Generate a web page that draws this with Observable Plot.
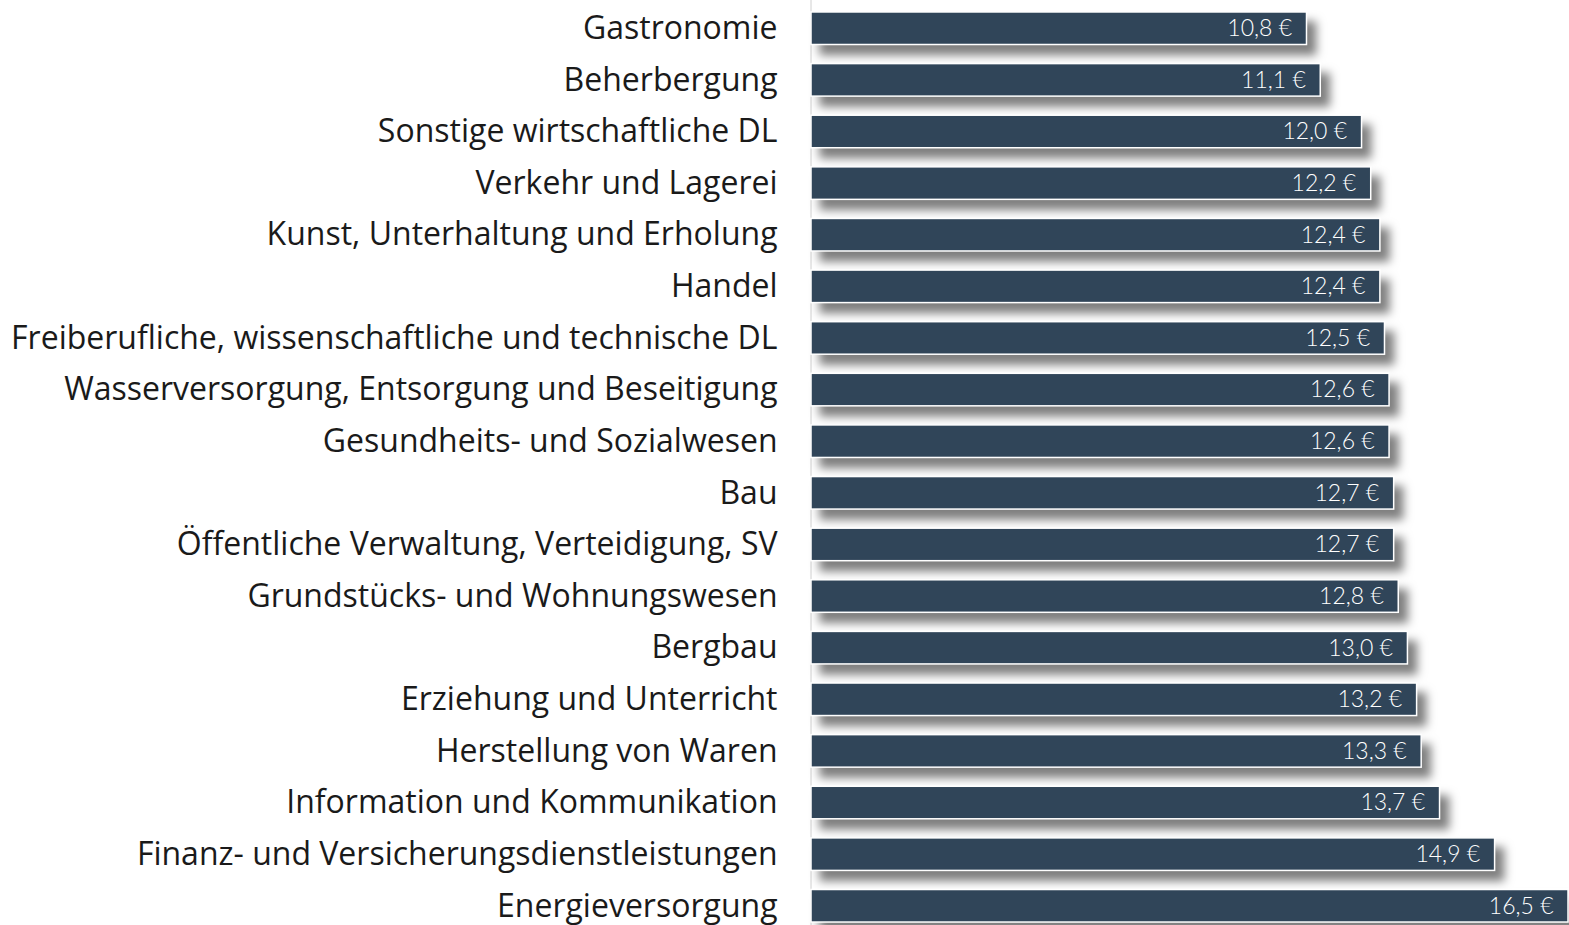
<!DOCTYPE html>
<html>
<head>
<meta charset="utf-8">
<script src="https://cdn.jsdelivr.net/npm/d3@7"></script>
<script src="https://cdn.jsdelivr.net/npm/@observablehq/plot@0.6"></script>
<style>
  html, body { margin: 0; padding: 0; background: #fff; }
  #chart svg { display: block; }
</style>
</head>
<body>
<div id="chart"></div>
<script>
const categories = [
  "Gastronomie",
  "Beherbergung",
  "Sonstige wirtschaftliche DL",
  "Verkehr und Lagerei",
  "Kunst, Unterhaltung und Erholung",
  "Handel",
  "Freiberufliche, wissenschaftliche und technische DL",
  "Wasserversorgung, Entsorgung und Beseitigung",
  "Gesundheits- und Sozialwesen",
  "Bau",
  "Öffentliche Verwaltung, Verteidigung, SV",
  "Grundstücks- und Wohnungswesen",
  "Bergbau",
  "Erziehung und Unterricht",
  "Herstellung von Waren",
  "Information und Kommunikation",
  "Finanz- und Versicherungsdienstleistungen",
  "Energieversorgung"
];
const values = [10.8, 11.1, 12.0, 12.2, 12.4, 12.4, 12.5, 12.6, 12.6, 12.7, 12.7, 12.8, 13.0, 13.2, 13.3, 13.7, 14.9, 16.5];

const data = categories.map((c, i) => ({category: c, value: values[i]}));
const fmt = v => v.toFixed(1).replace(".", ",") + " €";

const chart = Plot.plot({
  width: 1569,
  height: 925,
  marginLeft: 811,
  marginRight: 1,
  marginTop: 0,
  marginBottom: 0,
  style: {fontFamily: "'Open Sans', sans-serif", background: "#fff"},
  x: {domain: [0, 16.5], axis: null},
  y: {domain: categories, range: [0, 934], round: false, paddingInner: 0.37, paddingOuter: 0.232, label: null},
  marks: [
    Plot.ruleX([0], {stroke: "#d0d0d0", strokeWidth: 1, dx: -0.5}),
    Plot.barX(data, {
      y: "category", x: "value",
      fill: "#304559", stroke: "#ffffff", strokeWidth: 1.5,
      className: "bars"
    }),
    Plot.text(data, {
      y: "category", x: "value", text: d => fmt(d.value),
      textAnchor: "end", dx: -15, fill: "#ffffff",
      fontSize: 23, fontFamily: "Lato, sans-serif", fontWeight: 300
    }),
    Plot.axisY({tickSize: 0, tickPadding: 34, fontSize: 32, fill: "#1a1a1a", label: null})
  ]
});

d3.select(chart).selectAll("g.bars").style("filter", "drop-shadow(9px 10px 5px rgba(0,0,0,0.5))");
d3.select(chart).selectAll("g[aria-label='rule'] line").attr("y1", 0).attr("y2", 925);
document.getElementById("chart").appendChild(chart);
</script>
</body>
</html>
